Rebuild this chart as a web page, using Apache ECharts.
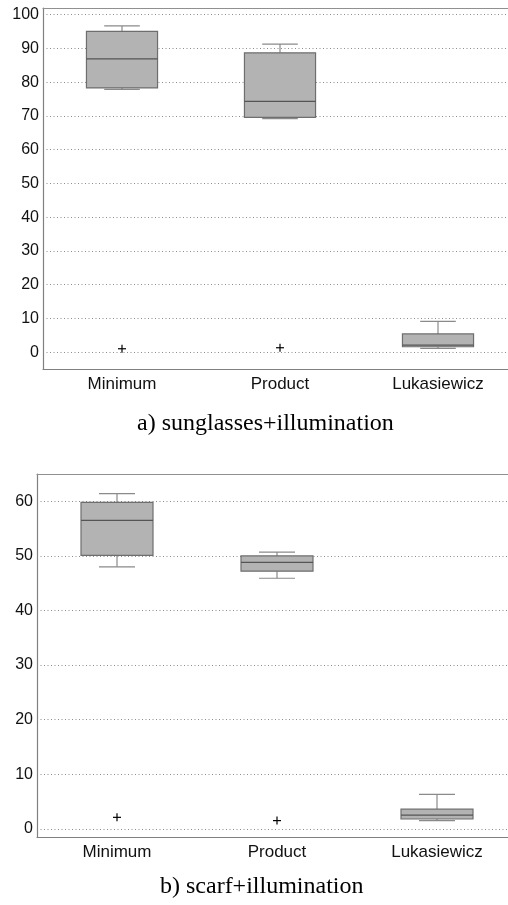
<!DOCTYPE html>
<html>
<head>
<meta charset="utf-8">
<script src="https://cdn.jsdelivr.net/npm/echarts@6/dist/echarts.min.js"></script>
<style>html,body{margin:0;padding:0;background:#fff}#main{width:508px;height:905px}</style>
</head>
<body>
<div id="main"></div>
<script>
var categories = ['Minimum', 'Product', 'Lukasiewicz'];

// [lower whisker, Q1, median, Q3, upper whisker]
var sunglassesBoxes = [
    [77.9, 78.3, 86.9, 95.1, 96.7],
    [69.2, 69.6, 74.3, 88.7, 91.3],
    [1.1, 1.6, 2.1, 5.4, 9.1]
];
var sunglassesOutliers = [[0, 1.0], [1, 1.3]];
var sunglassesTicks = [0, 10, 20, 30, 40, 50, 60, 70, 80, 90, 100];

var scarfBoxes = [
    [48.0, 50.1, 56.5, 59.8, 61.4],
    [45.9, 47.2, 48.8, 50.0, 50.7],
    [1.5, 1.8, 2.5, 3.6, 6.3]
];
var scarfOutliers = [[0, 2.1], [1, 1.5]];
var scarfTicks = [0, 10, 20, 30, 40, 50, 60];

var myChart = echarts.init(document.getElementById('main'));

function renderBox(params, api) {
    var x = api.value(0);
    var band = api.size([1, 0])[0];
    var half = band * 0.225;
    var cap = half / 2;
    var lo = api.coord([x, api.value(1)]);
    var q1 = api.coord([x, api.value(2)]);
    var med = api.coord([x, api.value(3)]);
    var q3 = api.coord([x, api.value(4)]);
    var hi = api.coord([x, api.value(5)]);
    var cx = lo[0];
    var grey = { stroke: '#8a8a8a', lineWidth: 1.2 };
    return {
        type: 'group',
        children: [
            { type: 'line', shape: { x1: cx, y1: hi[1], x2: cx, y2: q3[1] }, style: grey },
            { type: 'line', shape: { x1: cx, y1: lo[1], x2: cx, y2: q1[1] }, style: grey },
            { type: 'line', shape: { x1: cx - cap, y1: hi[1], x2: cx + cap, y2: hi[1] }, style: grey },
            { type: 'line', shape: { x1: cx - cap, y1: lo[1], x2: cx + cap, y2: lo[1] }, style: grey },
            {
                type: 'rect',
                shape: { x: cx - half, y: q3[1], width: half * 2, height: q1[1] - q3[1] },
                style: { fill: '#b3b3b3', stroke: '#6e6e6e', lineWidth: 1.2 }
            },
            { type: 'line', shape: { x1: cx - half, y1: med[1], x2: cx + half, y2: med[1] },
              style: { stroke: '#555555', lineWidth: 1.2 } }
        ]
    };
}

function renderPlus(params, api) {
    var p = api.coord([api.value(0), api.value(1)]);
    var s = 4;
    var st = { stroke: '#000', lineWidth: 1.2 };
    return {
        type: 'group',
        children: [
            { type: 'line', shape: { x1: p[0] - s, y1: p[1], x2: p[0] + s, y2: p[1] }, style: st },
            { type: 'line', shape: { x1: p[0], y1: p[1] - s, x2: p[0], y2: p[1] + s }, style: st }
        ]
    };
}

function bottomAxis(gridIndex) {
    return {
        type: 'category', gridIndex: gridIndex, data: categories, position: 'bottom',
        axisLine: { onZero: false, lineStyle: { color: '#808080', width: 1.2 } },
        axisTick: { inside: true, alignWithLabel: true, length: 5, lineStyle: { color: '#808080' } },
        axisLabel: { margin: 7, color: '#111', fontFamily: 'Liberation Sans', fontSize: 17 },
        splitLine: { show: false }
    };
}

function topAxis(gridIndex) {
    return {
        type: 'category', gridIndex: gridIndex, data: categories, position: 'top',
        axisLine: { onZero: false, lineStyle: { color: '#909090', width: 1.2 } },
        axisTick: { inside: true, alignWithLabel: true, length: 5, lineStyle: { color: '#909090' } },
        axisLabel: { show: false },
        splitLine: { show: false }
    };
}

function valueAxis(gridIndex, min, max, ticks) {
    return {
        type: 'value', gridIndex: gridIndex, min: min, max: max,
        axisLine: { show: true, onZero: false, lineStyle: { color: '#808080', width: 1.2 } },
        axisTick: { show: false, customValues: ticks },
        axisLabel: { customValues: ticks, margin: 4, color: '#111', fontFamily: 'Liberation Sans', fontSize: 16 },
        splitLine: { show: true, lineStyle: { color: '#8c8c8c', type: [1, 2.5], width: 1 } }
    };
}

var option = {
    backgroundColor: '#fff',
    animation: false,
    grid: [
        { left: 43, top: 8, width: 474, height: 361, outerBoundsMode: 'none' },
        { left: 37, top: 474, width: 480, height: 363, outerBoundsMode: 'none' }
    ],
    xAxis: [bottomAxis(0), topAxis(0), bottomAxis(1), topAxis(1)],
    yAxis: [valueAxis(0, -5, 102, sunglassesTicks), valueAxis(1, -1.5, 65, scarfTicks)],
    graphic: [
        { type: 'text', left: 265 - 128, top: 412,
          style: { text: 'a) sunglasses+illumination', fontFamily: 'Liberation Serif', fontSize: 24, fill: '#000' } },
        { type: 'text', left: 266 - 106, top: 875,
          style: { text: 'b) scarf+illumination', fontFamily: 'Liberation Serif', fontSize: 24, fill: '#000' } }
    ],
    series: [
        {
            type: 'custom', xAxisIndex: 0, yAxisIndex: 0, renderItem: renderBox,
            encode: { x: 0, y: [1, 2, 3, 4, 5] },
            data: sunglassesBoxes.map(function (b, i) { return [i].concat(b); })
        },
        {
            type: 'custom', xAxisIndex: 0, yAxisIndex: 0, renderItem: renderPlus,
            encode: { x: 0, y: 1 }, data: sunglassesOutliers
        },
        {
            type: 'custom', xAxisIndex: 2, yAxisIndex: 1, renderItem: renderBox,
            encode: { x: 0, y: [1, 2, 3, 4, 5] },
            data: scarfBoxes.map(function (b, i) { return [i].concat(b); })
        },
        {
            type: 'custom', xAxisIndex: 2, yAxisIndex: 1, renderItem: renderPlus,
            encode: { x: 0, y: 1 }, data: scarfOutliers
        }
    ]
};

myChart.setOption(option);
</script>
</body>
</html>
